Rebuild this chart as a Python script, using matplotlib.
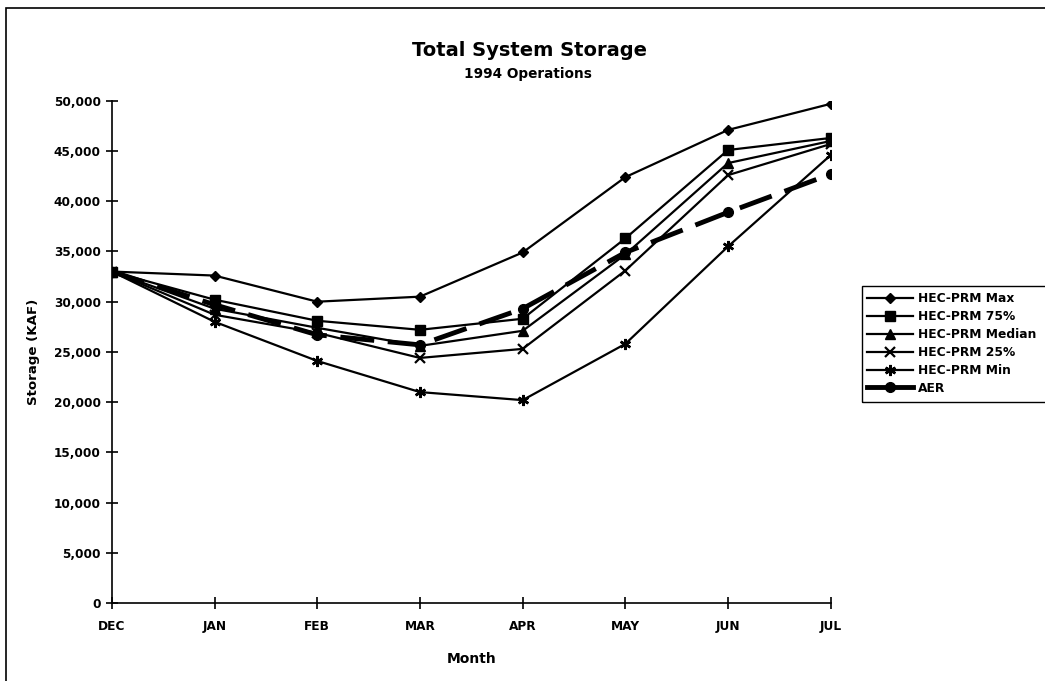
import matplotlib
matplotlib.use('Agg')
import matplotlib.pyplot as plt
from matplotlib.patches import Rectangle
from matplotlib.lines import Line2D
from matplotlib.ticker import FuncFormatter

plt.rcParams['font.family'] = ['DejaVu Sans']
plt.rcParams['font.weight'] = 'bold'

months = ['DEC', 'JAN', 'FEB', 'MAR', 'APR', 'MAY', 'JUN', 'JUL']

hec_max = [33000, 32600, 30000, 30500, 34900, 42400, 47100, 49700]
hec_75 = [33000, 30200, 28100, 27200, 28300, 36300, 45100, 46300]
hec_median = [33000, 29300, 27400, 25600, 27100, 34700, 43800, 46000]
hec_25 = [33000, 28700, 26900, 24400, 25300, 33100, 42600, 45700]
hec_min = [33000, 28000, 24100, 21000, 20200, 25800, 35500, 44600]
aer = [33000, 29700, 26700, 25700, 29300, 34900, 38900, 42700]

fig = plt.figure(figsize=(10.45, 6.81), dpi=100)
ax = fig.add_axes([0.107, 0.1145, 0.688, 0.7375])

x = list(range(len(months)))
ax.plot(x, hec_max, color='black', lw=1.6, marker='D', ms=5, label='HEC-PRM Max')
ax.plot(x, hec_75, color='black', lw=1.6, marker='s', ms=6.5, label='HEC-PRM 75%')
ax.plot(x, hec_median, color='black', lw=1.6, marker='^', ms=6.5, label='HEC-PRM Median')
ax.plot(x, hec_25, color='black', lw=1.6, marker='x', ms=7, mew=1.6, label='HEC-PRM 25%')
ax.plot(x, hec_min, color='black', lw=1.6, marker=(6, 2, 0), ms=8, mew=1.8, label='HEC-PRM Min')
ax.plot(x, aer, color='black', lw=3.5, ls=(0, (7, 2.8)), marker='o', ms=7, label='AER')

ax.set_xlim(0, 7)
ax.set_ylim(0, 50000)
ax.set_xticks(x)
ax.set_xticklabels(months)
ax.set_yticks(range(0, 50001, 5000))
ax.yaxis.set_major_formatter(FuncFormatter(lambda v, p: f'{int(v):,}'))
ax.tick_params(direction='inout', length=8, width=1.2, labelsize=8.7)
ax.tick_params(axis='y', pad=4)
ax.tick_params(axis='x', pad=8)
for s in ['top', 'right']:
    ax.spines[s].set_visible(False)
for s in ['left', 'bottom']:
    ax.spines[s].set_linewidth(1.2)

ax.set_xlabel('Month', fontsize=10, fontweight='bold', labelpad=14)
ax.set_ylabel('Storage (KAF)', fontsize=9.6, fontweight='bold', labelpad=10)

fig.text(0.507, 0.926, 'Total System Storage', ha='center', va='center', fontsize=14, fontweight='bold')
fig.text(0.505, 0.892, '1994 Operations', ha='center', va='center', fontsize=9.8, fontweight='bold')

# legend: AER shown as a thick solid stroke like the original
handles, labels = ax.get_legend_handles_labels()
handles[-1] = Line2D([], [], color='black', lw=3.5, marker='o', ms=7)
leg = fig.legend(handles, labels, loc='upper left', bbox_to_anchor=(0.825, 0.578), fontsize=8.8,
                 frameon=False, handlelength=3.8, handletextpad=0.35,
                 labelspacing=0.4, borderpad=0.4, borderaxespad=0)

fig.add_artist(Rectangle((0.825, 0.41), 0.3, 0.17, transform=fig.transFigure,
                         fill=False, edgecolor='black', lw=1.0))
fig.add_artist(Rectangle((0.006, -0.05), 1.1, 1.038, transform=fig.transFigure,
                         fill=False, edgecolor='black', lw=1.2))

fig.savefig('out.png', dpi=100)
